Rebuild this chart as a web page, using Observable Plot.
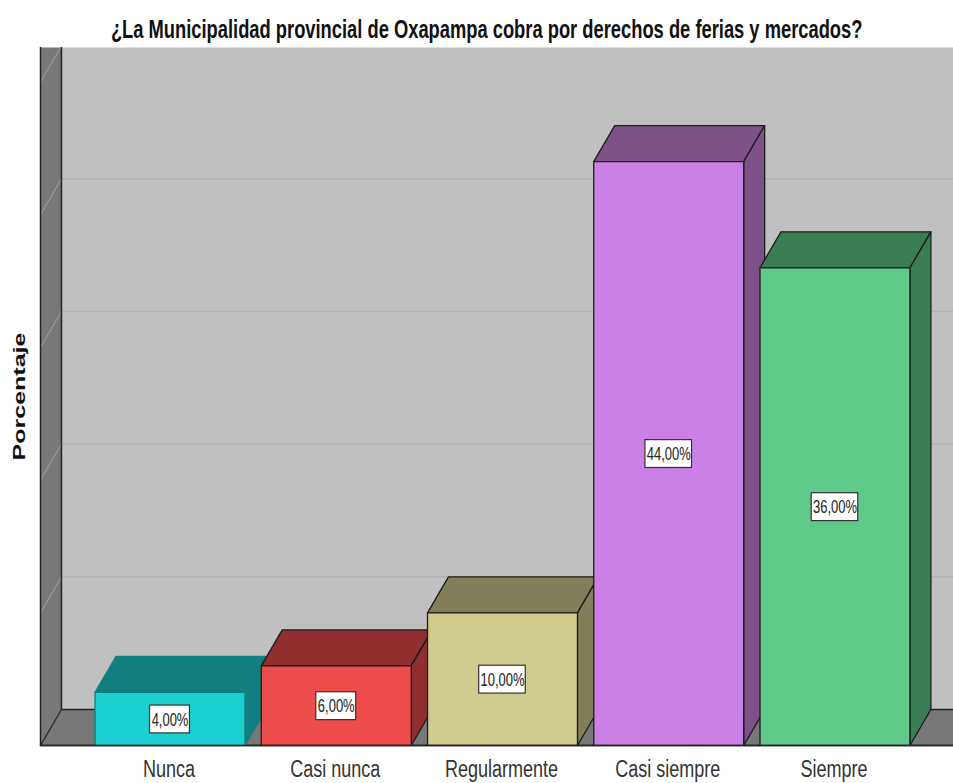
<!DOCTYPE html>
<html><head><meta charset="utf-8">
<script src="https://cdn.jsdelivr.net/npm/d3@7"></script>
<script src="https://cdn.jsdelivr.net/npm/@observablehq/plot@0.6"></script>
<style>
html,body{margin:0;padding:0;background:#fff;overflow:hidden}
#title{height:47px;width:953px;text-align:center;white-space:nowrap;overflow:hidden}
#title span{display:inline-block;font:bold 25px/58px "Liberation Sans",sans-serif;color:#111;transform:translateX(10px) scaleX(.733);transform-origin:center}
#title{display:flex;justify-content:center}
svg{display:block}
</style></head><body>
<div id="title"><span>¿La Municipalidad provincial de Oxapampa cobra por derechos de ferias y mercados?</span></div>
<div id="chart"></div>
<script>
const categories = ["Nunca","Casi nunca","Regularmente","Casi siempre","Siempre"];
const values = [4,6,10,44,36];
const valueLabels = ["4,00%","6,00%","10,00%","44,00%","36,00%"];
const frontColors = ["#1bd0d0","#ef4c4c","#d0cb8e","#cb80e5","#5fca8a"];
const darkColors = ["#117f7f","#902d2d","#827e58","#7f5189","#3a7d54"];
const barEdges = ["#117f7f","#1c1c1c","#1c1c1c","#1c1c1c","#1c1c1c"];
const gridTicks = [10,20,30,40,50];

const xMin=-0.779, xMax=4.713, yMax=52.6;
const halfW=0.451, depthX=0.126, depthY=2.71;
const boxHalfW=[0.12,0.12,0.14,0.14,0.14], boxHalfH=1.05;
const poly=(pts,fill,stroke="none",strokeWidth=1.3)=>Plot.line(pts,{x:d=>d[0],y:d=>d[1],curve:"linear-closed",fill,stroke,strokeWidth,clip:true});

const bars=categories.flatMap((c,i)=>{
  const l=i-halfW,r=i+halfW,v=values[i],e=barEdges[i];
  return [
    poly([[l,v],[r,v],[r+depthX,v+depthY],[l+depthX,v+depthY]],darkColors[i],e),
    poly([[r,0],[r+depthX,depthY],[r+depthX,v+depthY],[r,v]],darkColors[i],e),
    poly([[l,0],[r,0],[r,v],[l,v]],frontColors[i],e)
  ];
});

const chart=Plot.plot({
  width:953,height:736,marginLeft:40,marginRight:0,marginTop:0,marginBottom:38,
  x:{domain:[xMin,xMax],axis:null},
  y:{domain:[0,yMax],axis:null},
  style:{background:"#fff"},
  marks:[
    poly([[xMin+depthX,depthY],[xMax,depthY],[xMax,yMax],[xMin+depthX,yMax]],"#c0c0c0"),
    poly([[xMin,0],[xMin+depthX,depthY],[xMin+depthX,yMax],[xMin,yMax]],"#787878"),
    poly([[xMin,0],[xMax,0],[xMax,depthY],[xMin+depthX,depthY]],"#787878"),
    ...gridTicks.map(t=>Plot.line([[xMin+depthX,t+depthY],[xMax,t+depthY]],{x:d=>d[0],y:d=>d[1],stroke:"#b2b2b2",strokeWidth:1.5,clip:true})),
    ...gridTicks.map(t=>Plot.line([[xMin,t],[xMin+depthX,t+depthY]],{x:d=>d[0],y:d=>d[1],stroke:"#a4a4a4",strokeWidth:1,clip:true})),
    Plot.line([[xMin+depthX,yMax],[xMin+depthX,depthY],[xMax,depthY]],{x:d=>d[0],y:d=>d[1],stroke:"#222",strokeWidth:1.5}),
    Plot.line([[xMin,0],[xMin+depthX,depthY]],{x:d=>d[0],y:d=>d[1],stroke:"#222",strokeWidth:1.2}),
    Plot.line([[xMin,yMax],[xMin,0],[xMax,0]],{x:d=>d[0],y:d=>d[1],stroke:"#222",strokeWidth:1.5}),
    ...bars,
    Plot.line([[xMin,0],[xMax,0]],{x:d=>d[0],y:d=>d[1],stroke:"#222",strokeWidth:1.5}),
    Plot.rect(categories.map((c,i)=>i),{x1:i=>i-boxHalfW[i],x2:i=>i+boxHalfW[i],y1:i=>values[i]/2-boxHalfH,y2:i=>values[i]/2+boxHalfH,dy:0.5,fill:"#fff",stroke:"#333",strokeWidth:1.2}),
    Plot.text(categories.map((c,i)=>i),{x:i=>i,y:i=>values[i]/2,text:i=>valueLabels[i],dy:1,fontSize:18,fill:"#222",fontFamily:"'Liberation Sans',sans-serif"}),
    Plot.axisX({ticks:[0,1,2,3,4],tickFormat:i=>categories[i],tickSize:0,tickPadding:15.5,dx:-1,label:null,fontSize:23,fill:"#333",fontFamily:"'Liberation Sans',sans-serif"}),
    Plot.axisY({ticks:[],label:"Porcentaje",labelAnchor:"center",labelArrow:"none",labelOffset:28,fontWeight:"bold",fill:"#111",fontFamily:"'Liberation Sans',sans-serif"})
  ]
});
document.getElementById("chart").appendChild(chart);
// The source font is condensed: squeeze real text glyphs horizontally.
const squeeze=(el,k)=>{el.setAttribute("lengthAdjust","spacingAndGlyphs");el.setAttribute("textLength",el.getComputedTextLength()*k);};
d3.select(chart).selectAll("text").each(function(){
  const t=this.textContent;
  if(valueLabels.includes(t)) squeeze(this,.72);
  else if(categories.includes(t)) squeeze(this,.783);
  else if(t==="Porcentaje"){this.setAttribute("font-size",17);this.style.fontSize="17px";squeeze(this,128/this.getComputedTextLength());}
});
</script>
</body></html>
